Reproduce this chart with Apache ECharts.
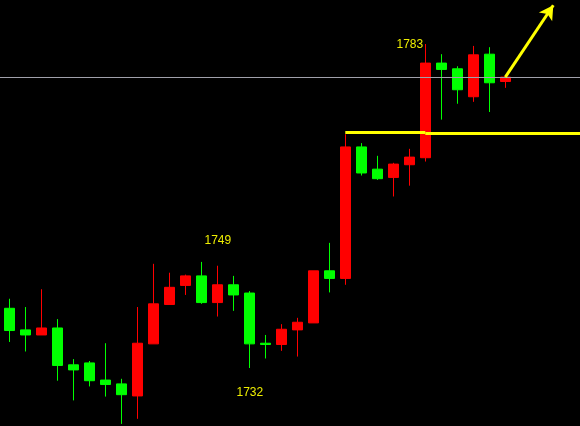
<!DOCTYPE html>
<html>
<head>
<meta charset="utf-8">
<style>
html,body{margin:0;padding:0;background:#000;}
#chart{width:580px;height:426px;}
</style>
<script src="https://cdn.jsdelivr.net/npm/echarts@6/dist/echarts.min.js"></script>
</head>
<body>
<div id="chart"></div>
<script>
// candle data (price units), one entry per bar
const categories = ['', 'c1','c2','c3','c4','c5','c6','c7','c8','c9','c10','c11','c12','c13','c14','c15','c16',
  'c17','c18','c19','c20','c21','c22','c23','c24','c25','c26','c27','c28','c29','c30','c31','c32','','','','',''];
const opens  = [1741.4,1738.0,1737.2,1738.3,1732.5,1732.8,1730.1,1729.5,1727.6,1735.8,1742.0,1745.0,1746.5,1742.3,1745.1,1743.8,1735.9,1735.7,1738.0,1739.1,1747.3,1746.1,1766.8,1763.3,1762.0,1764.0,1765.1,1780.0,1779.1,1774.7,1781.4,1777.1];
const closes = [1737.9,1737.2,1738.3,1732.4,1731.7,1730.0,1729.4,1727.8,1735.9,1742.1,1744.7,1746.5,1742.3,1745.1,1743.5,1735.8,1735.7,1738.1,1739.2,1747.3,1746.1,1766.8,1762.7,1761.8,1764.1,1765.2,1780.0,1779.0,1775.8,1781.3,1776.9,1777.8];
const lows   = [1736.1,1734.6,1737.2,1730.0,1726.9,1729.1,1727.5,1723.2,1724.0,1735.8,1742.0,1743.5,1742.1,1740.1,1741.0,1732.0,1733.5,1734.7,1733.8,1739.1,1743.9,1745.1,1762.3,1761.6,1759.0,1760.7,1764.5,1771.1,1773.6,1773.9,1772.3,1776.1];
const highs  = [1742.9,1741.6,1744.4,1739.7,1733.4,1733.1,1735.9,1730.3,1741.6,1748.4,1747.0,1746.7,1748.7,1748.1,1746.5,1744.1,1737.2,1738.9,1739.9,1747.3,1751.7,1768.8,1767.4,1765.4,1764.3,1766.5,1783.0,1781.4,1779.5,1782.7,1782.5,1778.0];
// annotations
const labelPoints = [[27, 1783.0, '1783'], [13, 1748.7, '1749'], [16, 1732.0, '1732']];
const currentPrice = 1777.8;
const levelSeg1 = [[22, 1769.1], [27.1, 1769.1]];
const levelSeg2 = [[27.1, 1768.95], [37, 1768.95]];
const arrowLine = [[32.29, 1777.8], [34.92, 1789.1]];

const candleData = ['-'];
for (let i = 0; i < opens.length; i++) candleData.push([opens[i], closes[i], lows[i], highs[i]]);
while (candleData.length < categories.length) candleData.push('-');

const labelOffsets = [[-15.5, 1], [16.5, -21], [0.5, 25]];

const chart = echarts.init(document.getElementById('chart'));
chart.setOption({
  backgroundColor: '#000000',
  animation: false,
  grid: {left: -14.7, top: 0, width: 608, height: 426, outerBoundsMode: 'none', containLabel: false},
  xAxis: {type: 'category', data: categories, show: false, boundaryGap: true},
  yAxis: {type: 'value', min: 1722.87, max: 1789.93, show: false, splitLine: {show: false}},
  series: [{
    type: 'candlestick',
    data: candleData,
    barWidth: 10,
    itemStyle: {color: '#ff0000', color0: '#00ff00', borderColor: '#ff0000', borderColor0: '#00ff00', borderWidth: 1},
    markPoint: {
      symbol: 'circle', symbolSize: 0,
      data: labelPoints.map((p, k) => ({
        coord: [p[0], p[1]],
        label: {show: true, formatter: p[2], position: 'inside', offset: labelOffsets[k],
          color: '#eeee00', fontSize: 12, fontFamily: 'Liberation Sans, Arial, sans-serif'}
      }))
    },
    markLine: {
      silent: true,
      symbol: ['none', 'none'],
      label: {show: false},
      data: [
        {yAxis: currentPrice, lineStyle: {color: '#a0a0aa', width: 1, type: 'solid'}},
        [{coord: levelSeg1[0]}, {coord: levelSeg1[1], lineStyle: {color: '#ffff00', width: 3, type: 'solid'}}],
        [{coord: levelSeg2[0]}, {coord: levelSeg2[1], lineStyle: {color: '#ffff00', width: 3, type: 'solid'}}],
        [{coord: arrowLine[0], symbol: 'none'}, {coord: arrowLine[1], symbol: 'arrow', symbolSize: [12, 14],
          lineStyle: {color: '#ffff00', width: 3, type: 'solid'}, itemStyle: {color: '#ffff00'}}]
      ]
    }
  }]
});
</script>
</body>
</html>
